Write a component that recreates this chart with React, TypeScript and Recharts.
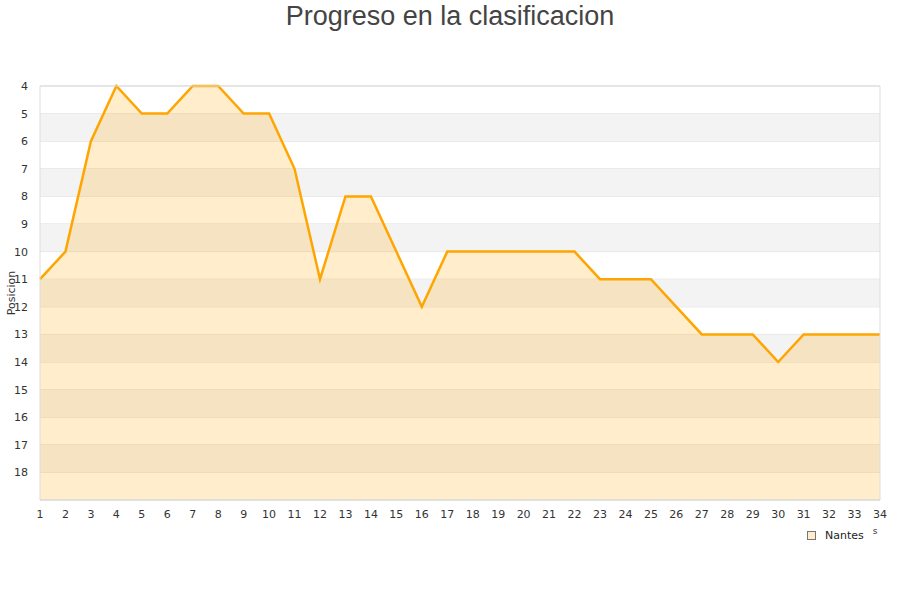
import React from 'react';
import {
  AreaChart,
  Area,
  XAxis,
  YAxis,
  CartesianGrid,
  ReferenceArea,
  ReferenceLine,
} from 'recharts';

// Jornadas and position of the team after each one
const jornadas = [1, 2, 3, 4, 5, 6, 7, 8, 9, 10, 11, 12, 13, 14, 15, 16, 17, 18, 19, 20, 21, 22, 23, 24, 25, 26, 27, 28, 29, 30, 31, 32, 33, 34];
const posiciones = [11, 10, 6, 4, 5, 5, 4, 4, 5, 5, 7, 11, 8, 8, 10, 12, 10, 10, 10, 10, 10, 10, 11, 11, 11, 12, 13, 13, 13, 14, 13, 13, 13, 13];
const yTicks = [4, 5, 6, 7, 8, 9, 10, 11, 12, 13, 14, 15, 16, 17, 18];
// shaded bands (start of each grey band)
const bandas = [5, 7, 9, 11, 13, 15, 17];

const equipo = 'Nantes';
const lineColor = '#ffa500';

const chartData = jornadas.map((j, i) => ({ jornada: j, pos: posiciones[i] }));

const tickStyle = { fontSize: 11, fill: '#333', fontFamily: 'DejaVu Sans' };

export default function App() {
  const YLabel = ({ viewBox }: any) => {
    const cx = viewBox.x + 11;
    const cy = viewBox.y + viewBox.height / 2;
    return (
      <text
        x={cx}
        y={cy}
        transform={`rotate(-90, ${cx}, ${cy})`}
        textAnchor="middle"
        dominantBaseline="central"
        fontSize={11}
        fill="#333"
        fontFamily="DejaVu Sans"
      >
        Posicion
      </text>
    );
  };

  const XLabel = ({ viewBox }: any) => (
    <text
      x={viewBox.x + viewBox.width - 5}
      y={viewBox.y + 34}
      textAnchor="middle"
      fontSize={9}
      fill="#333"
      fontFamily="DejaVu Sans"
    >
      s
    </text>
  );

  return (
    <div style={{ position: 'absolute', left: 0, top: 0, width: 900, height: 600, background: '#fff' }}>
      <div
        style={{
          position: 'absolute',
          top: 0,
          left: 0,
          width: 900,
          textAlign: 'center',
          fontFamily: 'Liberation Sans, Arial, sans-serif',
          fontSize: 27,
          color: '#444',
          lineHeight: '32px',
        }}
      >
        Progreso en la clasificacion
      </div>
      <AreaChart
        width={900}
        height={600}
        data={chartData}
        margin={{ top: 86, right: 20, left: 0, bottom: 70 }}
      >
        {bandas.map((b) => (
          <ReferenceArea key={b} y1={b} y2={b + 1} fill="#f3f3f3" fillOpacity={1} stroke="none" ifOverflow="hidden" />
        ))}
        <CartesianGrid vertical={false} stroke="#dddddd" />
        <ReferenceLine y={4} stroke="#dddddd" />
        <ReferenceLine y={19} stroke="#dddddd" />
        <ReferenceLine x={34} stroke="#dddddd" />
        <XAxis
          dataKey="jornada"
          type="number"
          domain={[1, 34]}
          ticks={jornadas}
          interval={0}
          tick={tickStyle}
          tickLine={false}
          axisLine={{ stroke: '#dddddd' }}
          height={30}
          tickMargin={4}
          label={<XLabel />}
        />
        <YAxis
          reversed
          type="number"
          domain={[4, 19]}
          ticks={yTicks}
          interval={0}
          tick={tickStyle}
          tickLine={false}
          axisLine={{ stroke: '#dddddd' }}
          width={40}
          tickMargin={6}
          label={<YLabel />}
        />
        <Area
          type="linear"
          dataKey="pos"
          name={equipo}
          stroke={lineColor}
          strokeWidth={2.5}
          fill={lineColor}
          fillOpacity={0.2}
          baseValue={19}
          dot={false}
          activeDot={false}
          isAnimationActive={false}
        />
      </AreaChart>
      <div
        style={{
          position: 'absolute',
          left: 807,
          top: 529,
          display: 'flex',
          alignItems: 'center',
          fontFamily: 'DejaVu Sans',
          fontSize: 11,
          color: '#222',
        }}
      >
        <span
          style={{
            display: 'inline-block',
            width: 7,
            height: 7,
            background: '#ffedcc',
            border: '1px solid #777',
            marginRight: 9,
          }}
        />
        {equipo}
      </div>
    </div>
  );
}
